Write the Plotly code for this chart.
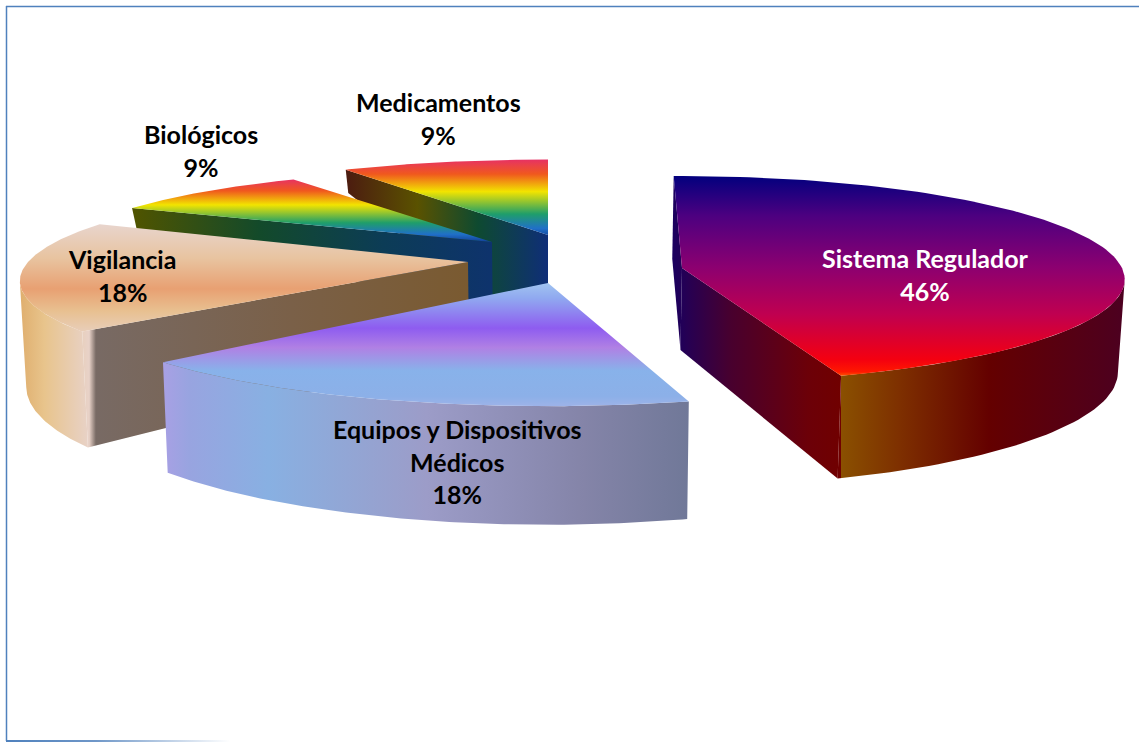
import numpy as np
import plotly.graph_objects as go

SR, EQ, VI, BI, ME = "Sistema Regulador", "Equipos y Dispositivos<br>Médicos", "Vigilancia", "Biológicos", "Medicamentos"
labels = [SR, EQ, VI, BI, ME]
values = [46, 18, 18, 9, 9]

# geometry (pixel canvas) per slice
apex = {SR: (682, 268), EQ: (548, 283), VI: (468, 262), BI: (492, 242), ME: (548, 235)}
radius = {SR: 440, EQ: 462, VI: 440, BI: 430, ME: 438}
squash = {SR: 0.232, EQ: 0.216, VI: 0.218, BI: 0.2, ME: 0.205}
persp = {SR: 0.11, EQ: 0.19, VI: 0.19, BI: 0.19, ME: 0.19}
angle_adj = {SR: (-1.2, -4.5), EQ: (0, -4), VI: (0, 0), BI: (0, 0), ME: (0, 0)}
rim_height = {SR: 92, EQ: 96, VI: 102, BI: 25, ME: 27}
apex_height = {SR: 82, EQ: 96, VI: 90, BI: 70, ME: 115}
radial_walls = {SR: (0, -1), EQ: (), VI: (0,), BI: (0,), ME: (0,)}
label_pos = {SR: (925, 274.5), EQ: (457, 461.5), VI: (122, 275.5), BI: (201, 150.5), ME: (438, 118.5)}
label_col = {SR: "white"}

rainbow = [[0, "#e62e6b"], [0.2, "#f0581e"], [0.42, "#f2e400"], [0.7, "#1f9e6a"], [0.88, "#2070c8"], [1, "#123f96"]]
top_grad = {
    SR: (175, 380, [[0, "#00007e"], [0.2, "#4d0080"], [0.45, "#8c0070"], [0.68, "#c00050"],
                    [0.9, "#f40010"], [0.96, "#ff1800"], [1, "#ff9000"]]),
    EQ: (283, 412, [[0, "#a0c4f0"], [0.12, "#90a8f0"], [0.35, "#8e5cf0"],
                    [0.5, "#b080e4"], [0.68, "#88b2ea"], [0.88, "#8cb0e8"], [1, "#a8b4e8"]]),
    VI: (225, 335, [[0, "#e8d4cc"], [0.3, "#e8c4a0"], [0.58, "#e8a072"], [0.78, "#e8c090"], [1, "#e8d0c0"]]),
    BI: (178, 242, rainbow),
    ME: (158, 238, rainbow),
}
side_grad = {
    SR: (672, 1125, [[0, "#1a0060"], [0.13, "#48002e"], [0.3, "#6c0008"], [0.372, "#700000"], [0.373, "#8a5000"],
                     [0.5, "#7e3000"], [0.7, "#640000"], [1, "#4c0020"]]),
    EQ: (163, 690, [[0, "#a8a0e4"], [0.05, "#98a4e0"], [0.2, "#88b0e2"],
                    [0.5, "#9c9cc8"], [0.8, "#8484a8"], [1, "#707898"]]),
    VI: (22, 470, [[0, "#e0b070"], [0.05, "#e8c48c"], [0.15, "#e8d2c8"], [0.165, "#786a64"],
                   [0.6, "#7a6048"], [1, "#7a5a30"]]),
    BI: (135, 548, [[0, "#4f5400"], [0.3, "#134a2a"], [0.6, "#0c3c56"], [1, "#0f2e78"]]),
    ME: (347, 548, [[0, "#4c1c10"], [0.35, "#5a5200"], [0.65, "#0e4a30"], [1, "#0f2e78"]]),
}

# cumulative angles clockwise from 12 o'clock, from the values
total = sum(values)
edges = np.cumsum([0] + values) / total * 2 * np.pi
spans = {l: (edges[i], edges[i + 1]) for i, l in enumerate(labels)}


def project(label, theta):
    ax, ay = apex[label]
    w = 1 / (1 + persp[label] * np.cos(theta))
    return ax + radius[label] * np.sin(theta) * w, ay - radius[label] * squash[label] * np.cos(theta) * w, w


def drop(x, y, h):
    return x + (555 - x) * 0.012, y + h


def face(x, y, grad, kind, start, stop):
    return go.Scatter(x=list(x) + [x[0]], y=list(y) + [y[0]], mode="lines", line=dict(width=0), fill="toself",
                      fillgradient=dict(type=kind, colorscale=grad, start=start, stop=stop),
                      hoverinfo="skip", showlegend=False)


fig = go.Figure()
for label in [ME, BI, VI, EQ, SR]:
    d0, d1 = angle_adj[label]
    a0, a1 = spans[label][0] + np.radians(d0), spans[label][1] + np.radians(d1)
    th = np.linspace(a0, a1, 120)
    ax, ay = apex[label]
    tx, ty, tw = project(label, th)
    bx, by = drop(tx, ty, rim_height[label] * tw)
    abx, aby = drop(ax, ay, apex_height[label])
    sx0, sx1, sgrad = side_grad[label]

    # radial walls that face the viewer
    for i in radial_walls[label]:
        fig.add_trace(face([tx[i], bx[i], abx, ax], [ty[i], by[i], aby, ay], sgrad, "horizontal", sx0, sx1))

    # outer wall: only between the left and right silhouette points of the full rim
    full = np.linspace(0, 2 * np.pi, 1440)
    fx = project(label, full)[0]
    front = (th >= full[np.argmax(fx)]) & (th <= full[np.argmin(fx)])
    if front.sum() > 2:
        wx = np.concatenate([tx[front], bx[front][::-1]])
        wy = np.concatenate([ty[front], by[front][::-1]])
        fig.add_trace(face(wx, wy, sgrad, "horizontal", sx0, sx1))

    ty0, ty1, tgrad = top_grad[label]
    fig.add_trace(face(np.r_[ax, tx], np.r_[ay, ty], tgrad, "vertical", ty0, ty1))

# fading bottom rule of the frame
fig.add_trace(go.Scatter(x=[6, 230, 230, 6, 6], y=[740, 740, 742, 742, 740], mode="lines", line=dict(width=0),
                         fill="toself", hoverinfo="skip", showlegend=False,
                         fillgradient=dict(type="horizontal", start=6, stop=230,
                                           colorscale=[[0, "#4f81bd"], [0.4, "#6f97c8"], [1, "#ffffff"]])))

annotations = []
for label, value in zip(labels, values):
    x, y = label_pos[label]
    annotations.append(dict(x=x, y=y, xref="x", yref="y", showarrow=False, align="center",
                            text=f"<b>{label}<br>{value}%</b>",
                            font=dict(family="Lato", size=25, color=label_col.get(label, "black"))))

fig.update_layout(
    width=1139, height=742, margin=dict(l=0, r=0, t=0, b=0),
    paper_bgcolor="white", plot_bgcolor="white", showlegend=False,
    xaxis=dict(range=[0, 1139], visible=False, fixedrange=True),
    yaxis=dict(range=[742, 0], visible=False, fixedrange=True),
    annotations=annotations,
    shapes=[
        dict(type="line", xref="x", yref="y", x0=6.5, x1=6.5, y0=6, y1=741, line=dict(color="#4f81bd", width=1.5)),
        dict(type="line", xref="x", yref="y", x0=6, x1=1139, y0=6.5, y1=6.5, line=dict(color="#4f81bd", width=1.5)),
    ],
)
fig.write_html("out.html", config=dict(displayModeBar=False), post_script="document.body.style.margin='0';")
